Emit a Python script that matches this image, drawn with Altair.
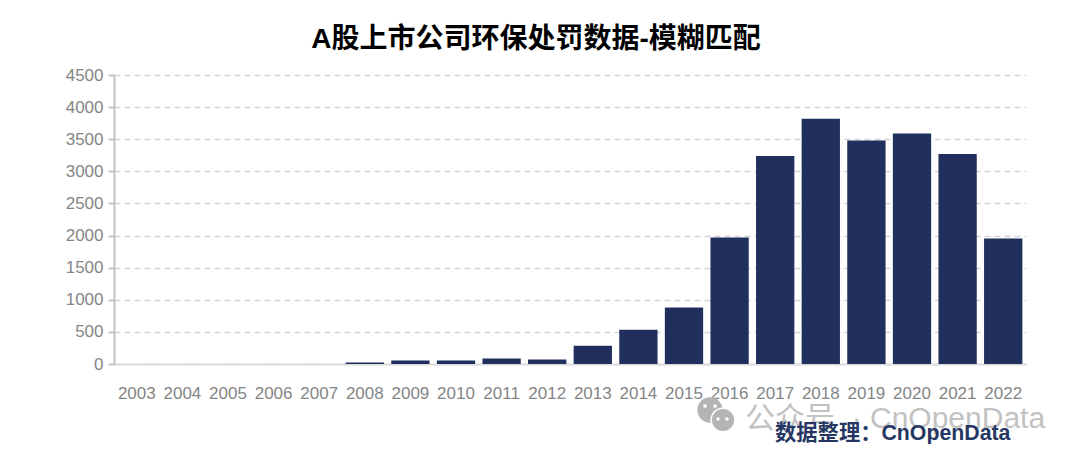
import altair as alt
import pandas as pd

years = [str(y) for y in range(2003, 2023)]
counts = [0, 0, 0, 0, 1, 25, 55, 55, 85, 70, 285, 535, 880, 1970, 3240, 3820, 3480, 3590, 3270, 1955]
y_ticks = list(range(0, 5000, 500))
title_text = "A股上市公司环保处罚数据-模糊匹配"
credit_text = "数据整理：CnOpenData"
watermark_text = "公众号\u00a0\u00a0·\u00a0CnOpenData"

FONT = "Liberation Sans, Noto Sans CJK SC, sans-serif"
df = pd.DataFrame({"year": years, "count": counts})

x = alt.X("year:N", sort=years, title=None,
          scale=alt.Scale(paddingInner=0.16, paddingOuter=0.08),
          axis=alt.Axis(labelAngle=0, labelFontSize=17, labelFont=FONT, labelColor="#858585",
                        labelPadding=21, ticks=False, domainColor="#dcdcdc", domainWidth=2, grid=False))
y = alt.Y("count:Q", title=None,
          scale=alt.Scale(domain=[0, 4500], nice=False),
          axis=alt.Axis(values=y_ticks, format="d", labelFontSize=17, labelFont=FONT, labelColor="#858585",
                        labelPadding=5, tickSize=6, tickColor="#c4c4c4", tickWidth=2,
                        domainColor="#c4c4c4", domainWidth=2,
                        grid=True, gridColor="#d4d4d4", gridDash=[6, 4], gridWidth=1.5))

bars = alt.Chart(df).mark_bar(color="#212f5f").encode(x=x, y=y)

def note(text, px, py, size, color, weight="normal", align="left", opacity=1.0):
    return alt.Chart(pd.DataFrame({"t": [text]})).mark_text(
        font=FONT, fontSize=size, fontWeight=weight, color=color, align=align,
        baseline="middle", opacity=opacity
    ).encode(text="t:N", x=alt.value(px), y=alt.value(py))

def blob(px, py, size, color, stroke=None):
    kw = dict(shape="circle", filled=True, size=size, color=color, opacity=1)
    if stroke:
        kw.update(stroke=stroke, strokeWidth=1.5)
    return alt.Chart(pd.DataFrame({"k": [0]})).mark_point(**kw).encode(
        x=alt.value(px), y=alt.value(py))

chart = alt.layer(
    bars,
    note(watermark_text, 631, 344, 30, "#b4b4b4", opacity=0.8),
    blob(596, 335, 640, "#b4b4b4"), blob(609, 345, 560, "#b4b4b4", stroke="#ffffff"),
    blob(591, 331, 14, "#ffffff"), blob(601, 331, 14, "#ffffff"),
    blob(604, 344, 12, "#ffffff"), blob(613, 344, 12, "#ffffff"),
    note(credit_text, 661, 359, 21.3, "#263763", weight="bold"),
).properties(
    width=912, height=289,
    title=alt.TitleParams(title_text, font=FONT, fontSize=28, fontWeight="bold", color="#000000",
                          anchor="middle", offset=12, dx=-34),
    padding={"left": 106, "top": 67, "right": 40, "bottom": 80},
    autosize=alt.AutoSizeParams(type="none"),
    background="#ffffff",
).configure_view(stroke=None)

chart.save("out.html", embed_options={"renderer": "svg", "actions": False})
